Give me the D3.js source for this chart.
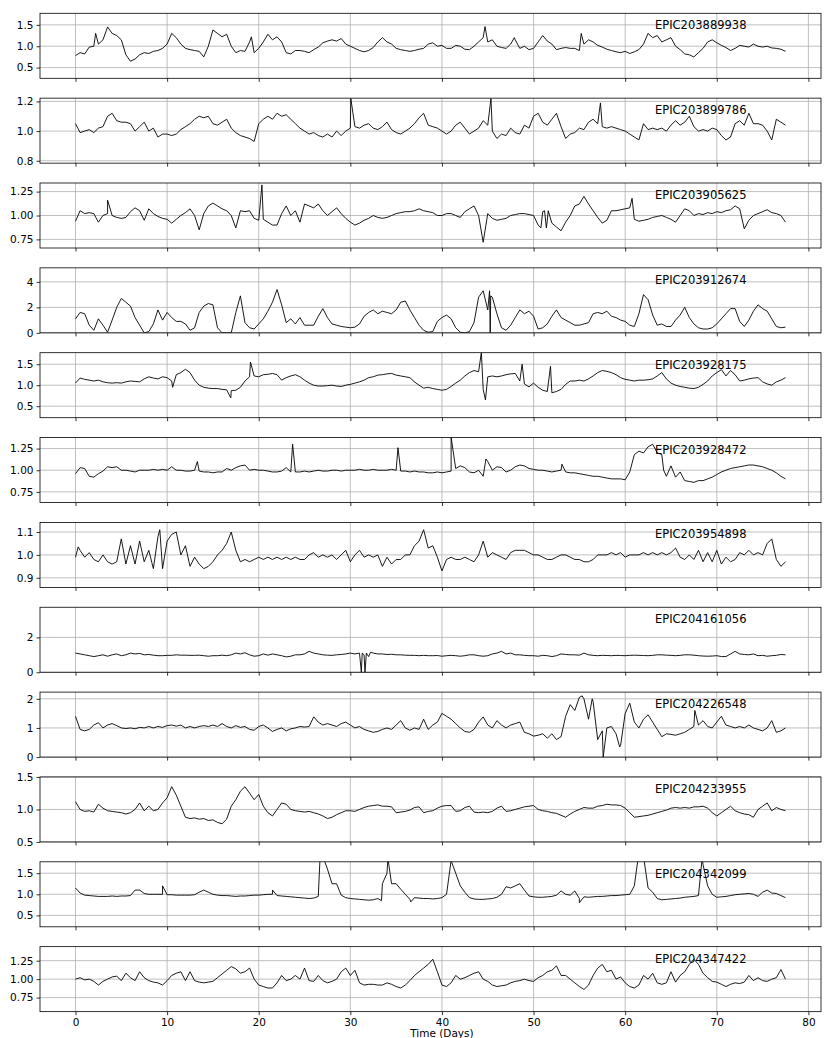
<!DOCTYPE html>
<html><head><meta charset="utf-8">
<script src="https://cdn.jsdelivr.net/npm/d3@7"></script>
<style>
body{margin:0;background:#fff}
svg{display:block}
text{font-family:"DejaVu Sans",sans-serif}
</style>
</head><body>
<svg id="c" width="830" height="1038"></svg>
<script>
// ---------------- DATA ----------------
const names=["EPIC203889938","EPIC203899786","EPIC203905625","EPIC203912674","EPIC203928175","EPIC203928472",
"EPIC203954898","EPIC204161056","EPIC204226548","EPIC204233955","EPIC204342099","EPIC204347422"];
const yDomains=[[0.25,1.77],[0.784,1.222],[0.66,1.34],[0,5.1],[0.226,1.774],[0.627,1.377],
[0.858,1.142],[0,3.73],[0,2.23],[0.5,1.5],[0.23,1.77],[0.56,1.44]];
const yTicks=[[0.5,1.0,1.5],[0.8,1.0,1.2],[0.75,1.0,1.25],[0,2,4],[0.5,1.0,1.5],[0.75,1.0,1.25],
[0.9,1.0,1.1],[0,2],[0,1,2],[0.5,1.0,1.5],[0.5,1.0,1.5],[0.75,1.0,1.25]];
const yTickLabels=[["0.5","1.0","1.5"],["0.8","1.0","1.2"],["0.75","1.00","1.25"],["0","2","4"],
["0.5","1.0","1.5"],["0.75","1.00","1.25"],["0.9","1.0","1.1"],["0","2"],["0","1","2"],
["0.5","1.0","1.5"],["0.5","1.0","1.5"],["0.75","1.00","1.25"]];
const xTicks=[0,10,20,30,40,50,60,70,80];
const xTickLabels=["0","10","20","30","40","50","60","70","80"];
const xLabel="Time (Days)";
const sampleStep=0.5; // days between listed samples

const s1=[0.78,0.85,0.82,0.98,1.0,1.05,1.15,1.45,1.3,1.25,1.15,0.8,0.65,0.7,0.8,0.85,0.83,0.88,0.9,0.95,
1.05,1.3,1.2,1.05,0.95,0.92,0.9,0.88,0.75,1.0,1.38,1.3,1.22,1.28,1.0,0.85,0.9,0.88,1.1,0.85,
0.95,1.1,1.28,1.15,1.22,1.1,0.85,0.82,0.9,0.9,0.88,0.85,0.92,0.98,1.08,1.12,1.15,1.12,1.18,1.05,
1.0,0.95,0.9,0.87,0.9,0.97,1.1,1.2,1.1,1.05,0.95,0.92,0.9,0.88,0.9,0.93,0.95,1.05,1.08,1.0,
1.02,0.95,0.95,1.02,1.0,0.93,0.92,1.0,1.1,1.2,1.1,1.15,1.0,0.97,0.95,1.05,1.15,0.95,1.0,0.92,
0.95,1.1,1.25,1.12,1.05,0.92,0.95,0.97,0.95,0.95,0.9,1.05,1.15,1.1,1.02,0.98,0.93,0.9,0.87,0.85,
0.88,0.83,0.87,0.92,1.05,1.3,1.2,1.25,1.1,1.15,1.2,1.0,0.92,0.82,0.8,0.75,0.85,0.95,1.1,1.15,
1.08,1.02,0.97,0.9,0.95,1.02,1.0,0.98,1.05,1.0,0.98,1.0,0.96,0.95,0.93,0.88];
const s2=[1.05,0.99,1.0,1.01,0.99,1.02,1.03,1.1,1.12,1.07,1.06,1.06,1.05,1.0,1.03,1.06,1.0,1.02,0.96,0.98,
0.98,0.97,0.98,1.01,1.03,1.05,1.08,1.1,1.09,1.1,1.05,1.04,1.06,1.08,1.02,0.99,0.97,0.96,0.95,0.93,
1.05,1.08,1.1,1.08,1.12,1.1,1.11,1.08,1.05,1.02,1.0,0.98,0.99,0.97,0.96,0.98,0.96,1.0,0.97,1.0,
1.02,1.03,1.02,1.04,1.05,1.02,1.01,1.03,1.06,1.01,0.99,0.98,1.0,1.02,1.05,1.09,1.12,1.04,1.03,1.02,
1.0,0.98,1.0,1.04,1.06,1.02,0.98,1.0,1.02,1.07,1.04,1.0,0.95,0.98,0.97,1.02,0.99,0.98,1.04,1.02,
1.1,1.12,1.06,1.04,1.08,1.12,1.03,0.95,0.98,0.99,1.02,1.01,1.06,1.08,1.05,1.03,1.02,1.03,1.02,1.01,
1.0,0.98,0.96,0.94,1.05,1.01,1.02,1.01,1.02,1.0,1.04,1.07,1.04,1.06,1.1,1.03,1.0,1.01,1.0,1.02,
1.01,0.97,0.94,0.96,1.05,1.07,1.04,1.12,1.05,1.05,1.04,1.0,0.94,1.08,1.06,1.04];
const s3=[0.94,1.05,1.02,1.03,1.02,0.93,1.0,1.02,1.0,0.98,0.97,0.98,1.04,1.08,1.05,0.95,1.07,1.02,0.99,0.97,
0.96,0.92,0.96,1.0,1.03,1.07,1.0,0.85,1.02,1.1,1.13,1.1,1.07,1.05,1.0,0.87,1.05,1.04,1.05,0.97,
0.95,0.96,0.93,0.9,0.9,1.02,1.1,1.0,1.05,0.93,1.12,1.1,1.08,1.12,1.05,1.0,1.04,1.08,1.02,0.97,
0.93,0.9,0.92,0.95,0.97,1.0,0.98,0.97,0.98,1.0,1.02,1.03,1.04,1.04,1.05,1.07,1.05,1.04,1.03,1.0,
1.0,1.02,1.02,1.0,0.98,1.04,1.07,1.1,1.0,0.72,1.02,0.97,0.95,0.96,0.97,1.0,1.01,1.02,1.02,1.01,
1.0,0.9,1.04,0.95,0.92,0.88,0.84,0.93,1.0,1.1,1.12,1.2,1.12,1.05,0.98,0.92,0.95,1.05,1.05,1.06,
1.07,1.08,0.96,0.94,0.95,0.96,0.98,0.99,1.0,0.98,0.96,0.93,1.0,1.07,1.05,1.0,1.02,1.01,1.03,1.02,
1.04,1.03,1.05,1.06,1.1,1.07,0.86,0.95,1.0,1.02,1.04,1.06,1.03,1.02,1.0,0.93];
const s4=[1.1,1.6,1.5,0.6,0.2,1.1,0.6,0.05,1.0,2.0,2.7,2.4,2.1,1.2,0.6,0.0,0.1,0.7,1.8,1.0,
1.6,1.2,0.9,0.9,0.7,0.2,0.4,1.6,2.1,2.3,2.2,0.4,0.0,0.0,0.0,1.6,2.9,0.8,0.4,0.3,
0.7,1.1,1.7,2.4,3.4,2.2,0.8,1.1,0.7,1.2,0.6,0.6,0.6,1.3,1.9,1.2,0.7,0.6,0.5,0.45,
0.4,0.45,0.7,1.3,1.6,1.8,1.5,1.7,1.6,1.5,1.8,2.4,2.5,1.8,1.2,0.6,0.2,0.05,0.1,0.9,
1.2,1.4,1.1,0.4,0.05,0.0,0.1,0.8,2.8,3.3,1.8,2.8,1.5,0.4,0.2,0.6,1.2,1.8,1.5,1.7,
1.3,0.3,0.4,0.7,1.3,1.8,1.2,1.0,0.8,0.6,0.6,0.7,0.8,1.5,1.6,1.5,1.7,1.3,1.2,1.0,
0.9,0.6,0.5,1.5,3.0,2.6,1.4,0.6,0.7,0.5,0.5,1.0,1.4,2.0,1.2,0.7,0.4,0.3,0.3,0.4,
0.7,1.1,1.5,1.9,1.9,0.9,0.5,1.0,1.7,2.2,1.9,1.7,1.1,0.5,0.4,0.45];
const s5=[1.05,1.17,1.14,1.12,1.1,1.12,1.08,1.06,1.05,1.06,1.05,1.08,1.1,1.09,1.08,1.15,1.2,1.17,1.15,1.2,
1.18,1.1,1.25,1.3,1.38,1.3,1.12,1.0,0.95,0.93,0.92,0.92,0.9,0.89,0.87,0.88,0.95,1.1,1.2,1.22,
1.2,1.25,1.26,1.28,1.25,1.12,1.18,1.22,1.25,1.2,1.12,1.05,1.0,0.98,0.98,0.99,1.0,0.98,0.97,1.0,
1.02,1.05,1.08,1.12,1.18,1.2,1.24,1.25,1.27,1.28,1.24,1.22,1.2,1.18,1.08,1.0,0.93,0.95,0.92,0.9,
0.88,0.9,0.97,1.05,1.12,1.22,1.3,1.35,1.32,0.9,1.2,1.22,1.2,1.22,1.25,1.27,1.28,1.1,1.03,0.96,
1.05,0.95,0.88,0.85,0.82,0.85,0.9,1.02,1.1,1.1,1.12,1.1,1.15,1.22,1.3,1.35,1.33,1.3,1.25,1.18,
1.14,1.12,1.1,1.12,1.12,1.13,1.15,1.22,1.3,1.15,1.05,1.0,0.97,0.95,0.93,0.92,0.95,1.02,1.1,1.22,
1.3,1.37,1.22,1.35,1.25,1.1,1.12,1.15,1.17,1.18,1.08,1.03,1.0,1.08,1.12,1.18];
const s6=[0.96,1.03,1.02,0.93,0.92,0.96,0.99,1.04,1.03,1.04,1.0,1.0,0.99,0.98,1.0,1.0,1.0,1.01,1.0,1.01,
1.0,1.04,1.0,1.0,0.99,0.99,1.0,0.99,0.98,0.98,0.97,0.98,0.98,1.02,1.0,1.03,1.05,1.06,1.0,1.01,
1.0,1.0,0.99,0.98,0.98,0.99,1.03,0.98,0.98,0.98,0.99,0.98,0.99,1.0,0.99,0.99,1.0,1.0,0.99,1.0,
1.0,1.0,1.01,1.0,1.0,1.01,1.0,1.0,1.0,1.01,1.0,0.99,0.99,0.98,0.99,0.98,0.98,0.97,0.97,0.98,
0.97,0.98,0.99,1.02,1.05,1.03,0.98,0.97,1.0,0.93,1.1,1.0,1.04,1.03,0.98,1.0,1.04,1.06,1.05,1.02,
1.01,1.0,1.0,0.99,0.98,0.99,1.0,0.98,0.97,0.97,0.96,0.95,0.94,0.93,0.93,0.92,0.91,0.9,0.9,0.9,
0.89,0.98,1.18,1.22,1.2,1.27,1.3,1.2,1.18,0.93,1.05,0.92,0.98,0.88,0.87,0.86,0.88,0.88,0.9,0.92,
0.95,0.98,1.0,1.02,1.03,1.04,1.05,1.06,1.06,1.05,1.04,1.02,1.0,0.97,0.93,0.9];
const s7=[0.99,1.02,0.99,1.01,0.98,0.97,1.0,0.97,0.96,0.97,1.07,0.96,1.04,0.96,1.06,0.97,1.02,0.94,1.08,0.94,
1.06,1.09,1.1,1.0,1.04,0.95,0.99,0.96,0.94,0.95,0.97,1.0,1.02,1.05,1.1,1.02,0.97,0.98,0.97,0.98,
0.99,0.98,0.99,0.98,0.99,0.98,0.99,0.98,0.99,0.98,0.98,1.0,1.01,0.99,1.0,0.99,1.0,0.98,1.0,1.02,
0.97,1.0,1.02,0.99,1.0,0.99,1.0,0.95,0.99,0.96,0.98,0.98,1.0,1.0,1.04,1.06,1.11,1.03,1.04,0.99,
0.93,0.98,0.99,0.98,0.98,0.99,0.98,0.97,1.0,1.06,0.99,1.01,1.0,0.99,0.98,1.01,1.02,1.02,1.02,1.01,
1.0,1.0,0.99,0.98,0.98,0.99,1.0,1.0,0.99,0.98,0.98,0.97,0.97,0.98,1.0,1.0,1.0,1.01,1.0,1.01,
0.99,1.0,1.0,1.0,1.01,1.0,1.01,1.0,1.01,1.0,1.01,1.03,0.99,0.98,1.0,0.98,1.02,0.97,1.01,0.97,
1.02,0.96,0.99,0.97,0.98,1.01,1.0,1.02,1.0,1.01,1.0,1.05,1.07,0.98,0.95,0.97];
const s8=[1.1,1.05,1.0,0.95,0.9,0.95,1.0,0.92,1.0,1.05,0.95,1.0,1.1,1.05,1.08,1.0,1.02,0.98,0.95,0.95,
0.97,0.97,1.0,0.98,0.98,0.97,0.97,0.98,0.95,0.92,0.95,0.95,0.98,0.95,1.0,1.1,1.05,1.12,1.0,0.92,
0.95,1.05,0.98,1.05,1.0,0.95,0.88,0.92,1.0,1.0,1.05,1.2,1.1,1.05,1.0,0.98,0.97,1.0,1.02,1.05,
1.1,1.05,1.1,1.0,0.9,1.1,1.05,1.05,1.02,1.03,1.0,1.0,0.98,0.97,0.97,0.95,0.97,0.95,0.95,0.96,
0.92,0.95,0.97,0.95,0.92,0.95,1.0,1.0,0.95,0.92,0.95,1.05,1.1,1.2,1.05,1.1,1.0,1.0,0.97,0.95,
0.95,0.92,0.97,0.95,0.9,0.95,1.05,1.02,1.0,1.0,0.98,1.1,1.0,0.97,0.95,0.97,0.96,0.95,0.97,0.96,
0.95,0.97,0.98,0.97,0.96,0.95,0.97,1.0,1.0,0.98,0.97,0.95,0.97,1.0,1.0,0.98,0.95,0.93,0.92,0.93,
0.95,0.9,0.9,1.05,1.2,1.05,1.02,1.0,1.05,0.95,0.97,0.92,0.95,0.97,1.02,1.0];
const s9=[1.4,0.95,0.9,0.95,1.1,1.18,1.0,1.1,1.15,1.08,1.0,0.98,1.0,0.97,1.02,1.0,1.05,1.0,1.05,1.02,
1.08,1.1,1.06,1.1,1.0,1.05,1.0,1.05,1.08,1.05,1.1,1.05,1.15,1.05,1.0,1.08,1.02,1.05,0.95,0.92,
1.05,1.1,1.0,0.88,0.95,1.0,0.9,0.97,1.0,1.05,1.03,1.05,1.38,1.2,1.1,1.15,1.1,1.05,1.15,1.2,
1.1,1.0,1.05,0.95,0.9,0.85,0.88,0.95,1.0,0.95,1.1,1.25,1.0,0.92,1.0,0.95,1.3,0.95,1.1,1.2,
1.5,1.4,1.3,1.15,1.0,0.88,0.85,0.95,1.2,1.38,1.1,1.0,1.25,1.1,1.0,1.1,1.15,1.2,0.85,0.8,
0.72,0.75,0.8,0.65,0.8,0.6,0.7,1.4,1.8,1.6,2.05,2.0,1.3,1.9,0.6,0.9,1.0,1.05,0.8,0.4,
1.5,1.85,1.2,1.0,1.3,1.45,1.2,0.95,0.7,0.8,0.78,0.75,0.8,0.85,0.95,1.05,1.1,1.25,1.05,1.0,
1.2,1.4,1.1,1.05,1.0,1.05,1.0,1.1,1.0,0.95,0.9,1.0,1.25,0.85,0.9,1.0];
const s10=[1.12,1.0,0.97,0.98,0.96,1.08,1.02,0.98,0.97,0.96,0.95,0.93,0.95,1.0,1.1,0.98,1.05,0.98,1.0,1.1,
1.18,1.35,1.22,1.05,0.88,0.86,0.87,0.85,0.86,0.83,0.84,0.8,0.78,0.85,1.05,1.15,1.28,1.35,1.25,1.15,
1.23,1.05,0.95,0.9,1.0,1.1,1.08,1.0,0.98,0.97,0.96,0.97,0.95,0.93,0.9,0.86,0.88,0.92,0.95,0.98,
0.98,0.97,1.0,1.03,1.05,1.06,1.07,1.05,1.05,1.04,0.95,0.96,0.97,0.99,1.03,1.04,0.95,0.97,0.98,1.02,
1.05,1.06,1.06,0.97,0.98,1.03,1.05,0.96,0.95,0.96,0.95,0.97,1.02,1.05,0.97,0.98,1.0,1.02,1.04,1.05,
1.06,1.0,0.98,0.97,0.95,0.94,0.91,0.88,0.93,0.97,1.0,1.03,1.02,1.02,1.05,1.06,1.08,1.07,1.07,1.06,
1.02,0.95,0.88,0.89,0.9,0.91,0.93,0.95,0.97,0.99,1.02,1.03,1.02,1.03,1.02,1.04,1.04,1.05,1.02,0.95,
0.9,0.95,1.0,1.05,0.98,0.95,0.93,0.92,0.88,1.0,1.05,1.1,0.98,1.03,1.0,0.98];
const s11=[1.15,1.03,0.98,0.97,0.96,0.95,0.95,0.95,0.96,0.95,0.96,0.96,0.97,1.1,1.1,1.02,1.0,1.0,1.0,1.0,
0.99,0.99,0.98,0.98,0.98,0.98,0.99,1.05,1.1,1.05,1.0,0.98,0.97,0.97,0.96,0.95,0.96,0.96,0.97,0.98,
0.98,0.99,1.0,1.0,0.97,0.96,0.95,0.94,0.93,0.92,0.91,0.9,0.91,0.95,1.9,1.6,1.25,1.25,0.98,0.92,
0.9,0.89,0.88,0.87,0.86,0.87,0.9,1.25,1.5,1.25,1.25,1.12,1.0,0.88,0.92,0.91,0.9,0.9,0.89,0.9,
0.92,1.0,1.8,1.5,1.2,1.05,0.92,0.89,0.88,0.88,0.89,0.9,0.93,1.0,1.18,1.15,1.2,1.25,1.1,0.96,
0.94,0.93,0.93,0.94,0.95,0.98,1.08,1.0,0.98,1.08,0.9,0.94,0.93,0.94,0.95,0.95,0.96,0.97,0.97,0.98,
0.99,1.0,1.2,2.0,1.9,1.15,1.05,0.9,0.87,0.88,0.89,0.9,0.91,0.93,0.94,0.95,0.97,1.7,1.2,1.0,
0.93,0.94,0.95,0.97,0.99,1.0,1.01,1.02,1.0,0.95,1.05,1.1,1.03,1.02,0.97,0.92];
const s12=[1.0,1.02,0.99,1.0,0.97,0.92,0.97,1.0,1.03,1.04,0.98,1.08,1.02,0.98,1.1,1.02,0.98,0.96,0.95,0.92,
0.98,1.05,1.08,1.1,0.98,1.1,0.98,0.96,0.95,0.96,0.97,1.02,1.07,1.12,1.17,1.14,1.08,1.1,1.15,1.0,
0.92,0.9,0.88,0.88,0.95,1.05,0.98,1.0,1.05,1.0,1.15,0.98,0.97,1.05,0.98,0.95,0.97,1.0,1.1,1.15,
1.05,1.12,0.95,0.92,0.93,0.93,0.92,0.92,0.95,0.93,0.9,0.88,0.92,0.98,1.05,1.1,1.15,1.2,1.27,1.1,
0.92,0.9,0.95,1.05,1.0,1.02,1.05,1.08,1.1,1.0,0.97,0.92,0.9,0.91,0.92,0.95,0.97,0.98,1.0,0.98,
0.97,1.02,1.05,1.1,1.12,1.18,1.05,1.05,1.0,0.95,0.9,0.86,0.92,1.05,1.15,1.2,1.1,1.12,1.0,1.03,
0.95,0.9,0.88,0.92,1.05,1.0,1.08,0.95,0.93,0.95,1.1,0.96,1.05,1.1,1.2,1.27,1.2,1.08,1.02,0.97,
0.96,0.93,0.9,0.93,0.95,0.94,0.96,1.05,0.98,1.02,0.98,0.97,1.0,1.02,1.13,1.0];

// narrow features between the listed samples: [day, value]
const spikes1=[[2.2,1.3],[19.2,1.22],[44.7,1.46],[47.9,1.2],[55.2,1.3]];
const spikes2=[[30.05,1.22],[45.35,1.22],[57.3,1.19]];
const spikes3=[[3.5,1.16],[20.35,1.32],[50.8,0.87],[51.2,1.05],[51.4,0.87],[51.6,1.05],[60.75,1.18]];
const spikes4=[[45.2,3.3],[45.27,0.0],[45.32,2.9]];
const spikes5=[[10.6,0.95],[16.95,0.7],[19.1,1.55],[44.3,1.78],[44.75,0.65],[48.75,1.5],[51.85,1.45]];
const spikes6=[[13.3,1.1],[23.7,1.3],[35.2,1.26],[41.0,1.38],[44.8,1.13],[53.1,1.07],[64.2,1.0]];
const spikes7=[[0.3,1.035],[9.2,1.11]];
const spikes8=[[31.2,0.0],[31.3,1.1],[31.6,0.0],[31.75,1.1],[32.2,1.15]];
const spikes9=[[55.3,2.1],[56.4,2.0],[57.6,0.0],[59.4,0.35],[67.6,1.6]];
const spikes10=[];
const spikes11=[[9.5,1.2],[21.5,1.1],[26.7,1.9],[33.4,0.85],[34.1,1.85],[36.6,0.82],[55.0,0.8],[68.4,1.85]];
const spikes12=[];

const series=[s1,s2,s3,s4,s5,s6,s7,s8,s9,s10,s11,s12];
const spikes=[spikes1,spikes2,spikes3,spikes4,spikes5,spikes6,spikes7,spikes8,spikes9,spikes10,spikes11,spikes12];

// ---------------- LAYOUT ----------------
const left=40, right=821, top0=13.3, stepY=84.85, ph=65;
const svg=d3.select("#c");
const x=d3.scaleLinear().domain([-3.875,81.375]).range([left,right]);

series.forEach((vals,i)=>{
  const top=top0+stepY*i, bottom=top+ph;
  const y=d3.scaleLinear().domain(yDomains[i]).range([bottom,top]);
  const g=svg.append("g");
  // grid
  g.selectAll(".gx").data(xTicks).join("line")
    .attr("x1",d=>x(d)).attr("x2",d=>x(d)).attr("y1",top).attr("y2",bottom)
    .attr("stroke","#b0b0b0").attr("stroke-width",0.8);
  g.selectAll(".gy").data(yTicks[i]).join("line")
    .attr("x1",left).attr("x2",right).attr("y1",d=>y(d)).attr("y2",d=>y(d))
    .attr("stroke","#b0b0b0").attr("stroke-width",0.8);
  // data
  const pts=vals.map((v,j)=>[j*sampleStep,v]).concat(spikes[i]).sort((a,b)=>a[0]-b[0]);
  const cid="clip"+i;
  svg.append("clipPath").attr("id",cid).append("rect")
    .attr("x",left).attr("y",top).attr("width",right-left).attr("height",ph);
  g.append("path").datum(pts)
    .attr("clip-path","url(#"+cid+")")
    .attr("fill","none").attr("stroke","#000").attr("stroke-width",0.9).attr("stroke-linejoin","round")
    .attr("d",d3.line().x(d=>x(d[0])).y(d=>y(d[1])));
  // frame
  g.append("rect").attr("x",left).attr("y",top).attr("width",right-left).attr("height",ph)
    .attr("fill","none").attr("stroke","#000").attr("stroke-width",0.8);
  // y axis
  const ya=g.append("g").attr("transform",`translate(${left},0)`)
    .call(d3.axisLeft(y).tickValues(yTicks[i]).tickFormat((d,j)=>yTickLabels[i][j]).tickSize(3.5).tickPadding(3));
  ya.select(".domain").remove();
  ya.selectAll("text").attr("font-family","DejaVu Sans").attr("font-size","10.5px").attr("fill","#000");
  ya.selectAll("line").attr("stroke","#000").attr("stroke-width",0.8);
  // x axis
  const last=i===series.length-1;
  const xa=g.append("g").attr("transform",`translate(0,${bottom})`)
    .call(d3.axisBottom(x).tickValues(xTicks).tickFormat((d,j)=>last?xTickLabels[j]:"").tickSize(3.5).tickPadding(3));
  xa.select(".domain").remove();
  xa.selectAll("text").attr("font-family","DejaVu Sans").attr("font-size","10.5px").attr("fill","#000");
  xa.selectAll("line").attr("stroke","#000").attr("stroke-width",0.8);
  // label
  g.append("text").attr("x",655).attr("y",top+16).attr("font-size","11.5px").attr("fill","#000").text(names[i]);
});
svg.append("text").attr("x",(x(0)+x(80))/2).attr("y",1036.5).attr("text-anchor","middle")
  .attr("font-size","10.5px").attr("fill","#000").text(xLabel);
</script>
</body></html>
